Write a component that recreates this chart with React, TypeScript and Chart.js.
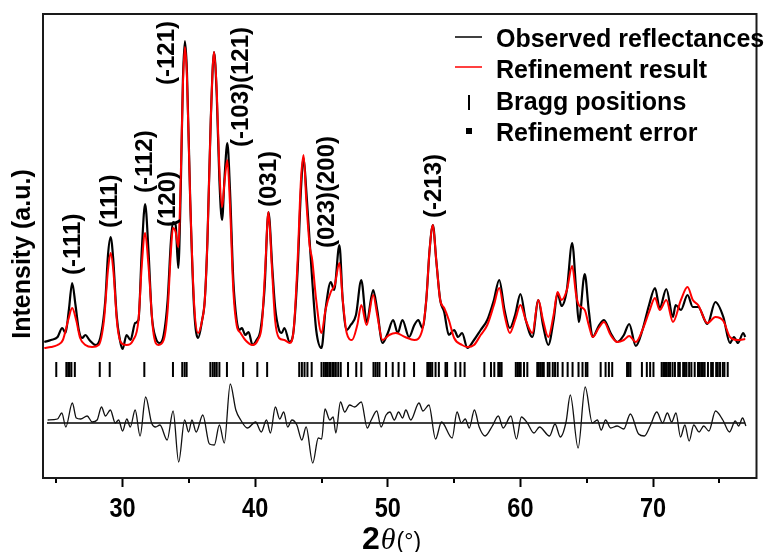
import React, { useEffect, useRef } from 'react';
import { Chart, registerables } from 'chart.js';

Chart.register(...registerables);

// ---------- data (2θ in degrees, intensity in arbitrary units) ----------
const obsTheta = [
  24.1, 24.6, 25.1, 25.45, 25.7, 25.95, 26.2, 26.45, 26.7, 26.95,
  27.2, 27.5, 28.0, 28.4, 28.7, 28.9, 29.1, 29.3, 29.55, 29.8,
  30.0, 30.3, 30.6, 30.95, 31.2, 31.45, 31.7, 31.95, 32.2, 32.5,
  32.8, 33.1, 33.4, 33.65, 33.8, 34.0, 34.2, 34.4, 34.55, 34.7,
  34.85, 35.1, 35.4, 35.7, 36.0, 36.2, 36.4, 36.65, 36.9, 37.1,
  37.3, 37.5, 37.7, 37.9, 38.1, 38.35, 38.6, 38.8, 39.0, 39.25,
  39.5, 39.8, 40.1, 40.4, 40.7, 41.0, 41.3, 41.5, 41.8, 42.0,
  42.2, 42.6, 42.9, 43.2, 43.45, 43.65, 43.85, 44.1, 44.3, 44.6,
  45.0, 45.3, 45.7, 45.95, 46.35, 46.6, 46.9, 47.2, 47.6, 48.0,
  48.4, 48.9, 49.2, 49.6, 50.0, 50.4, 50.75, 51.1, 51.6, 52.0,
  52.3, 52.6, 52.9, 53.15, 53.4, 53.65, 53.95, 54.25, 54.6, 55.0,
  55.3, 55.6, 56.0, 56.5, 57.0, 57.5, 58.0, 58.4, 58.8, 59.2,
  59.6, 60.0, 60.4, 60.9, 61.35, 61.7, 62.1, 62.5, 62.8, 63.1,
  63.5, 63.9, 64.2, 64.4, 64.85, 65.15, 65.45, 65.9, 66.3, 66.8,
  67.3, 67.8, 68.2, 68.7, 69.2, 69.7, 70.15, 70.5, 71.0, 71.5,
  71.7, 72.1, 72.6, 73.0, 73.4, 74.1, 74.7, 75.3, 75.8, 76.1,
  76.4, 76.8, 76.95,
];
const obsIntensity = [
  136, 138, 141, 150, 145, 168, 195, 173, 148, 140,
  143, 138, 133, 145, 178, 223, 241, 218, 163, 138,
  129, 143, 138, 155, 158, 228, 274, 228, 163, 140,
  135, 143, 178, 238, 256, 253, 210, 298, 398, 437,
  408, 278, 168, 140, 158, 178, 238, 358, 426, 383,
  298, 258, 303, 335, 288, 198, 158, 148, 150, 143,
  146, 133, 138, 148, 188, 266, 208, 171, 148, 145,
  150, 136, 148, 208, 288, 320, 288, 238, 198, 148,
  130, 168, 196, 188, 233, 178, 148, 153, 163, 198,
  156, 188, 168, 135, 145, 158, 145, 158, 141, 153,
  158, 150, 178, 228, 253, 218, 178, 166, 143, 148,
  141, 145, 130, 138, 148, 158, 178, 198, 168, 150,
  163, 184, 158, 141, 178, 153, 133, 158, 185, 172,
  188, 235, 188, 156, 204, 168, 141, 152, 158, 145,
  136, 143, 154, 132, 148, 173, 190, 170, 189, 161,
  173, 168, 183, 171, 171, 154, 176, 161, 135, 141,
  135, 145, 141,
];

const calcTheta = [
  24.1, 24.6, 25.1, 25.5, 25.9, 26.2, 26.5, 26.8, 27.2, 27.7,
  28.2, 28.6, 28.9, 29.1, 29.3, 29.6, 29.9, 30.3, 30.8, 31.2,
  31.45, 31.7, 31.95, 32.3, 32.7, 33.1, 33.4, 33.65, 33.8, 34.0,
  34.2, 34.4, 34.55, 34.7, 34.85, 35.1, 35.4, 35.7, 36.0, 36.2,
  36.4, 36.65, 36.9, 37.1, 37.3, 37.5, 37.7, 37.9, 38.1, 38.35,
  38.6, 38.9, 39.25, 39.8, 40.2, 40.5, 40.75, 41.0, 41.25, 41.5,
  41.8, 42.2, 42.6, 42.9, 43.2, 43.45, 43.65, 43.85, 44.1, 44.3,
  44.6, 45.0, 45.3, 45.7, 46.0, 46.35, 46.6, 46.9, 47.3, 47.7,
  48.0, 48.4, 48.9, 49.2, 49.6, 50.1, 50.6, 51.3, 52.0, 52.6,
  52.9, 53.15, 53.4, 53.65, 53.95, 54.25, 54.6, 55.0, 55.6, 56.0,
  56.5, 57.0, 57.5, 58.0, 58.4, 58.8, 59.2, 59.6, 60.0, 60.4,
  60.9, 61.35, 61.7, 62.1, 62.5, 62.8, 63.1, 63.5, 63.9, 64.2,
  64.4, 64.85, 65.15, 65.45, 65.9, 66.3, 66.8, 67.3, 67.8, 68.2,
  68.7, 69.2, 69.7, 70.15, 70.5, 71.0, 71.5, 72.1, 72.6, 73.0,
  73.4, 74.1, 74.7, 75.3, 75.8, 76.4, 76.95,
];
const calcIntensity = [
  130, 131, 133, 138, 158, 170, 158, 140, 133, 131,
  133, 158, 208, 225, 208, 153, 135, 133, 138, 158,
  213, 245, 213, 148, 133, 138, 168, 228, 250, 246,
  231, 308, 393, 431, 403, 278, 173, 145, 158, 178,
  238, 358, 426, 388, 308, 271, 298, 318, 273, 188,
  153, 145, 138, 133, 138, 153, 208, 266, 213, 158,
  140, 138, 135, 148, 218, 298, 323, 278, 233, 218,
  178, 145, 168, 186, 193, 215, 178, 145, 138, 153,
  173, 153, 183, 163, 138, 143, 145, 141, 138, 148,
  178, 228, 253, 218, 178, 170, 158, 140, 133, 131,
  133, 143, 153, 173, 190, 163, 145, 158, 173, 158,
  145, 178, 158, 141, 163, 186, 178, 188, 212, 183,
  173, 168, 153, 141, 150, 156, 143, 136, 138, 142,
  136, 148, 166, 180, 168, 178, 156, 178, 191, 178,
  173, 155, 161, 157, 141, 138, 139,
];

const braggTheta = [
  25.0, 25.76, 25.9, 26.0, 26.14, 26.4, 28.28, 29.03, 31.64, 33.8,
  34.5, 34.68, 34.83, 36.62, 36.8, 36.95, 37.1, 37.3, 37.87, 39.09,
  40.16, 40.9, 43.32, 43.52, 43.72, 43.94, 44.26, 45.0, 45.18, 45.33,
  45.43, 45.58, 45.68, 45.83, 45.93, 46.08, 46.26, 46.45, 47.0, 47.62,
  48.0, 48.92, 49.07, 49.22, 49.37, 49.87, 50.37, 50.81, 51.24, 51.98,
  52.98, 53.1, 53.23, 53.35, 53.6, 53.85, 54.35, 54.47, 55.1, 55.47,
  55.79, 57.28, 57.78, 58.03, 58.33, 58.45, 58.58, 59.65, 59.78, 59.9,
  60.02, 60.27, 60.52, 61.27, 61.39, 61.52, 61.64, 61.76, 62.06, 62.19,
  62.44, 62.61, 62.81, 63.18, 63.56, 63.93, 64.38, 64.68, 64.93, 65.05,
  66.05, 66.42, 66.67, 66.92, 68.04, 68.16, 68.29, 69.16, 69.53, 69.78,
  70.03, 70.65, 70.78, 70.9, 71.02, 71.15, 71.28, 71.47, 71.65, 71.9,
  72.02, 72.27, 72.4, 72.52, 72.72, 72.89, 73.14, 73.39, 73.52, 73.64,
  73.76, 73.89, 74.14, 74.38, 74.51, 74.76, 74.88, 75.05, 75.26, 75.38,
  75.63,
];
const braggLevel = 108.5;

const diffTheta = [
  24.35, 25.09, 25.42, 25.72, 26.21, 26.51, 26.84, 27.33, 27.71, 28.08,
  28.41, 28.71, 29.08, 29.45, 29.7, 30.0, 30.32, 30.58, 30.95, 31.32,
  31.74, 32.19, 32.49, 32.82, 33.36, 33.81, 34.23, 34.68, 34.98, 35.23,
  35.55, 36.05, 36.55, 36.92, 37.3, 37.67, 38.12, 38.54, 38.91, 39.41,
  40.03, 40.46, 40.85, 41.15, 41.52, 41.85, 42.15, 42.45, 42.77, 43.14,
  43.52, 43.84, 44.34, 44.76, 45.01, 45.26, 45.63, 45.88, 46.08, 46.43,
  46.75, 47.12, 47.5, 48.0, 48.45, 48.75, 49.17, 49.49, 49.87, 50.16,
  50.49, 50.81, 51.11, 51.36, 51.73, 52.35, 52.65, 53.1, 53.6, 54.05,
  54.85, 55.22, 55.54, 55.84, 56.14, 56.53, 56.89, 57.33, 57.88, 58.33,
  58.7, 59.28, 59.7, 60.07, 60.52, 61.02, 61.44, 62.19, 62.61, 63.01,
  63.44, 63.76, 64.35, 64.88, 65.42, 65.8, 66.09, 66.42, 66.8, 67.29,
  67.79, 68.29, 68.91, 69.34, 69.78, 70.28, 70.72, 71.08, 71.4, 71.73,
  72.07, 72.4, 72.72, 73.07, 73.47, 73.82, 74.21, 74.71, 75.26, 75.76,
  76.2, 76.45, 76.75, 77.0,
];
const diffIntensity = [
  58, 59, 65, 51, 75, 60, 59, 62, 56, 58,
  71, 62, 68, 55, 58, 47, 59, 51, 68, 42,
  81, 55, 51, 53, 38, 67, 16, 58, 46, 58,
  46, 63, 34, 33, 53, 35, 94, 68, 58, 50,
  56, 46, 58, 45, 71, 59, 66, 51, 58, 53,
  38, 51, 15, 40, 39, 69, 58, 61, 45, 76,
  66, 73, 71, 76, 50, 58, 67, 51, 63, 66,
  58, 66, 60, 68, 58, 75, 67, 73, 39, 56,
  40, 66, 55, 59, 50, 68, 51, 42, 52, 62,
  50, 62, 39, 61, 55, 45, 51, 42, 54, 41,
  56, 83, 30, 91, 55, 58, 48, 58, 50, 52,
  49, 64, 44, 42, 52, 66, 55, 65, 56, 65,
  41, 53, 37, 53, 46, 52, 47, 67, 58, 46,
  57, 52, 60, 52,
];
const diffZero = 55;
const diffZeroRange = [24.3, 76.95];

const xMajorTicks = [30, 40, 50, 60, 70];
const xMinorTicks = [25, 35, 45, 55, 65, 75];

const peakNames = ['(-111)', '(111)', '(-112)', '(120)', '(-121)', '(-103)(121)', '(031)', '(023)(200)', '(-213)'];
const peakTheta = [26.27, 29.1, 31.72, 33.44, 33.36, 38.95, 41.05, 45.46, 53.53];
const peakLabelBase = [203, 250, 285, 251, 393, 331, 271, 230, 260];

const legendLabels = ['Observed reflectances', 'Refinement result', 'Bragg positions', 'Refinement error'];

const SANS = '"Liberation Sans", Arial, Helvetica, sans-serif';

const decorPlugin = {
  id: 'decor',
  afterDraw(chart: any) {
    const { ctx, chartArea: ca, scales } = chart;
    const xs = scales.x;
    const ys = scales.y;
    ctx.save();

    // minor ticks
    ctx.strokeStyle = '#000';
    ctx.lineWidth = 2;
    xMinorTicks.forEach((v) => {
      const px = Math.round(xs.getPixelForValue(v));
      ctx.beginPath();
      ctx.moveTo(px, ca.bottom);
      ctx.lineTo(px, ca.bottom + 5);
      ctx.stroke();
    });

    // tick labels (bold, condensed) at the scale's major ticks
    ctx.fillStyle = '#000';
    ctx.font = `bold 28px ${SANS}`;
    ctx.textAlign = 'center';
    ctx.textBaseline = 'alphabetic';
    xs.ticks.forEach((t: any) => {
      ctx.save();
      ctx.translate(xs.getPixelForValue(t.value), 517);
      ctx.scale(0.84, 1);
      ctx.fillText(String(t.value), 0, 0);
      ctx.restore();
    });

    // frame
    ctx.strokeStyle = '#1a1a1a';
    ctx.lineWidth = 2;
    ctx.strokeRect(ca.left, ca.top, ca.right - ca.left, ca.bottom - ca.top);

    // peak labels (rotated)
    ctx.fillStyle = '#000';
    ctx.font = `bold 24px ${SANS}`;
    ctx.textAlign = 'left';
    ctx.textBaseline = 'middle';
    peakNames.forEach((t, i) => {
      ctx.save();
      ctx.translate(xs.getPixelForValue(peakTheta[i]), ys.getPixelForValue(peakLabelBase[i]));
      ctx.rotate(-Math.PI / 2);
      ctx.fillText(t, 0, 0);
      ctx.restore();
    });

    // y axis title
    ctx.save();
    ctx.font = `bold 25px ${SANS}`;
    ctx.textAlign = 'center';
    ctx.textBaseline = 'middle';
    ctx.translate(23, 254);
    ctx.rotate(-Math.PI / 2);
    ctx.fillText('Intensity (a.u.)', 0, 0);
    ctx.restore();

    // x axis title: 2θ(°)
    ctx.textAlign = 'left';
    ctx.textBaseline = 'alphabetic';
    let tx = 362;
    const by = 549;
    ctx.font = `bold 32px ${SANS}`;
    ctx.fillText('2', tx, by);
    tx += ctx.measureText('2').width + 1;
    ctx.font = 'italic 30px "Liberation Serif", "DejaVu Serif", serif';
    ctx.fillText('θ', tx, by);
    tx += ctx.measureText('θ').width + 1;
    ctx.font = `23px ${SANS}`;
    ctx.fillText('(°)', tx, by);

    // legend
    const lx = 496;
    const baselines = [47, 78, 109.5, 141];
    ctx.font = `bold 25px ${SANS}`;
    legendLabels.forEach((t, i) => ctx.fillText(t, lx, baselines[i]));
    ctx.lineWidth = 1.5;
    ctx.strokeStyle = '#000';
    ctx.beginPath();
    ctx.moveTo(455, 37);
    ctx.lineTo(482, 37);
    ctx.stroke();
    ctx.strokeStyle = '#ff0000';
    ctx.beginPath();
    ctx.moveTo(455, 67);
    ctx.lineTo(482, 67);
    ctx.stroke();
    ctx.strokeStyle = '#000';
    ctx.lineWidth = 2;
    ctx.beginPath();
    ctx.moveTo(469, 95);
    ctx.lineTo(469, 110);
    ctx.stroke();
    ctx.fillRect(466, 128, 6, 6);

    ctx.restore();
  },
};

export default function App() {
  const ref = useRef<HTMLCanvasElement>(null);
  useEffect(() => {
    const canvas = ref.current;
    if (!canvas) return;
    const toPts = (xs: number[], ys: number[]) => xs.map((x, i) => ({ x, y: ys[i] }));
    const chart = new Chart(canvas, {
      type: 'line',
      data: {
        datasets: [
          {
            label: 'Refinement result',
            data: toPts(calcTheta, calcIntensity),
            borderColor: '#ff0000',
            borderWidth: 2,
            pointRadius: 0,
            cubicInterpolationMode: 'monotone',
            order: 1,
          },
          {
            label: 'Observed reflectances',
            data: toPts(obsTheta, obsIntensity),
            borderColor: '#000000',
            borderWidth: 2.2,
            pointRadius: 0,
            cubicInterpolationMode: 'monotone',
            order: 2,
          },
          {
            label: 'Bragg positions',
            data: braggTheta.map((x) => ({ x, y: braggLevel })),
            showLine: false,
            pointStyle: 'line',
            rotation: 90,
            pointRadius: 7.5,
            pointBorderWidth: 2,
            pointBorderColor: '#000',
            pointBackgroundColor: '#000',
            borderColor: '#000',
            order: 3,
          },
          {
            label: 'Refinement error',
            data: toPts(diffTheta, diffIntensity),
            borderColor: '#111111',
            borderWidth: 1.3,
            pointRadius: 0,
            cubicInterpolationMode: 'monotone',
            order: 4,
          },
          {
            label: 'zero',
            data: diffZeroRange.map((x) => ({ x, y: diffZero })),
            borderColor: '#000000',
            borderWidth: 1.6,
            pointRadius: 0,
            order: 5,
          },
        ],
      } as any,
      options: {
        responsive: false,
        devicePixelRatio: 1,
        animation: false,
        events: [],
        layout: { padding: { left: 43, top: 14, right: 2, bottom: 0 } },
        plugins: { legend: { display: false }, tooltip: { enabled: false } },
        scales: {
          x: {
            type: 'linear',
            min: 24,
            max: 77.8,
            afterBuildTicks: (s: any) => {
              s.ticks = xMajorTicks.map((v) => ({ value: v }));
            },
            afterFit: (s: any) => {
              s.height = 74;
            },
            ticks: { display: false },
            grid: {
              display: true,
              drawOnChartArea: false,
              drawTicks: true,
              tickLength: 9,
              tickWidth: 2,
              tickColor: '#000',
            },
            border: { display: false },
          },
          y: { type: 'linear', min: 0, max: 464, display: false },
        },
      } as any,
      plugins: [decorPlugin],
    });
    return () => chart.destroy();
  }, []);
  return (
    <div style={{ position: 'absolute', left: 0, top: 0, width: 766, height: 552, background: '#fff' }}>
      <canvas ref={ref} width={766} height={552} style={{ display: 'block', width: 766, height: 552 }} />
    </div>
  );
}
